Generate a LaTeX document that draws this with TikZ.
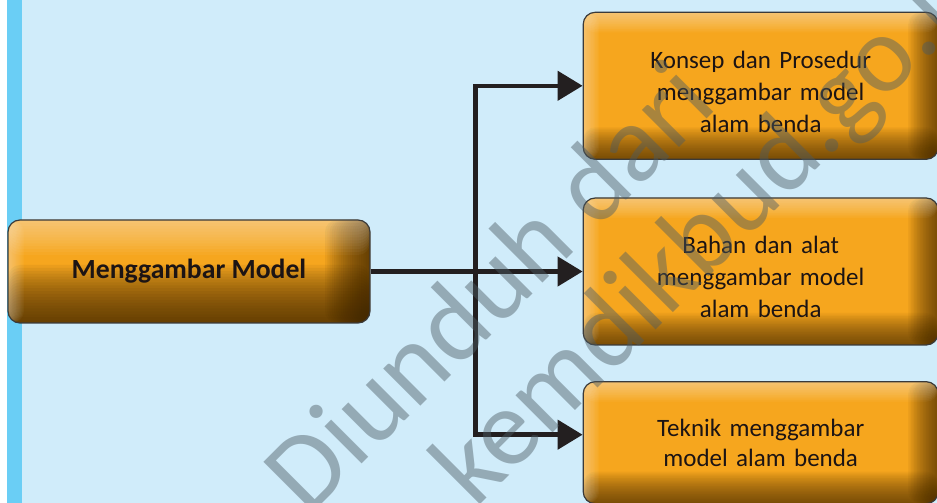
\documentclass[tikz,border=0pt]{standalone}
\usepackage{fontspec}
\setmainfont{Carlito}
\usetikzlibrary{positioning,arrows.meta}

\definecolor{bgblue}{HTML}{D0ECFA}
\definecolor{stripblue}{HTML}{6ACEF5}
\definecolor{boxorange}{HTML}{F6A61E}
\definecolor{boxline}{HTML}{3A3A3A}
\definecolor{boxtext}{HTML}{1C1414}
\definecolor{shadebrown}{HTML}{3A2300}
\definecolor{linkcol}{HTML}{231F20}
\definecolor{wmgray}{HTML}{4B5B63}

% bevel look: bottom depth, right depth, strength per step, top depth
\newcommand{\boxbevel}[4]{%
  \foreach \k in {1,...,20}{%
    \fill[shadebrown, opacity=#3] (path picture bounding box.south west) rectangle ([yshift=#1*\k/20]path picture bounding box.south east);
    \fill[shadebrown, opacity=#3] ([xshift=-#2*\k/20]path picture bounding box.north east) rectangle (path picture bounding box.south east);
  }%
  \foreach \k in {1,...,12}{%
    \fill[white, opacity=0.04] (path picture bounding box.north west) rectangle ([yshift=-#4*\k/12]path picture bounding box.north east);
    \fill[white, opacity=0.035] (path picture bounding box.north west) rectangle ([xshift=16*\k/12]path picture bounding box.south west);
  }%
}

\begin{document}
\begin{tikzpicture}[x=1pt, y=1pt,
  box/.style={rectangle, rounded corners=12pt, draw=boxline, line width=1.2pt, fill=boxorange, align=center, text=boxtext},
  main node/.style={box, minimum width=362pt, minimum height=103pt, font={\fontsize{27.7}{32}\selectfont\bfseries}, path picture={\boxbevel{58}{45}{0.062}{35}}},
  sub node/.style={box, minimum width=355pt, minimum height=147pt, text width=330pt, font={\fontsize{25}{32}\selectfont}, path picture={\boxbevel{32}{30}{0.049}{20}}},
  low text/.style={execute at begin node={\rule{0pt}{29pt}}},
  link/.style={line width=4.5pt, draw=linkcol, -{Triangle[length=25pt,width=29pt]}},
  watermark/.style={font={\fontsize{110}{110}\selectfont}, text=wmgray, text opacity=0.45, rotate=45}]
  \useasboundingbox (0,0) rectangle (937,503);
  % background
  \fill[bgblue] (0,0) rectangle (937,503);
  \fill[white] (0,0) rectangle (7,503);
  \fill[stripblue] (7,0) rectangle (22,503);

  \node[main node] (model) at (189,231.5) {Menggambar Model};
  \node[sub node, low text] (bahan) [right=212pt of model] {Bahan dan alat\\menggambar model\\alam benda};
  \node[sub node, low text] (konsep) [above=37.5pt of bahan] {Konsep dan Prosedur\\menggambar model\\alam benda};
  \node[sub node, minimum height=122pt, font={\fontsize{25}{30}\selectfont}] (teknik) [below=35.5pt of bahan] {Teknik menggambar\\model alam benda};

  \coordinate [right=105pt of model.east] (fork);
  \draw[link] (model) -- (bahan);
  \draw[link] (fork) |- (konsep);
  \draw[link] (fork) |- ([yshift=8pt]teknik.west);

  % watermark
  \begin{scope}
    \clip (0,0) rectangle (937,503);
    \node[watermark] (wm1) at (487.5,217.5) {Diunduh dari};
    \node[watermark] (wm2) at (654,212) {bse.kemdikbud.go.id};
  \end{scope}
\end{tikzpicture}
\end{document}
